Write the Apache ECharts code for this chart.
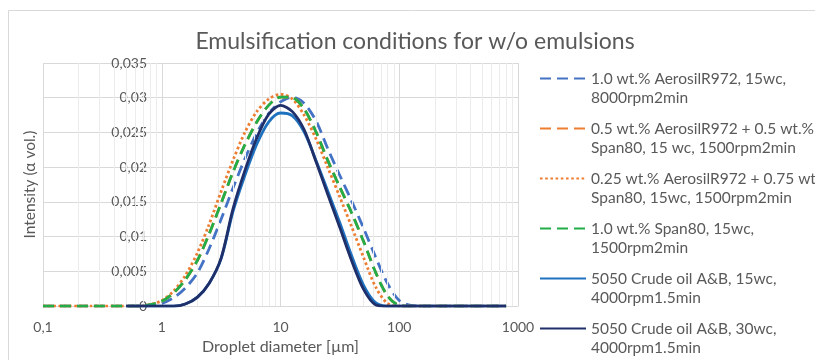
<!DOCTYPE html>
<html>
<head>
<meta charset="utf-8">
<script src="https://cdn.jsdelivr.net/npm/echarts@6/dist/echarts.min.js"></script>
<style>
  html, body { margin: 0; padding: 0; background: #fff; }
  #chart { width: 815px; height: 360px; }
</style>
</head>
<body>
<div id="chart"></div>
<script>
// Droplet diameters [µm] (log-spaced bins)
var diameters = [0.1, 0.126, 0.158, 0.2, 0.251, 0.316, 0.398, 0.501, 0.631, 0.794,
  1, 1.26, 1.58, 2.0, 2.51, 3.16, 3.98, 5.01, 6.31, 7.94,
  10, 12.6, 15.8, 20, 25.1, 31.6, 39.8, 50.1, 63.1, 79.4,
  100, 126, 158, 200, 251, 316, 398, 501, 631, 794];

var seriesNames = [
  '1.0 wt.% AerosilR972, 15wc,\n8000rpm2min',
  '0.5 wt.% AerosilR972 + 0.5 wt.%\nSpan80, 15 wc, 1500rpm2min',
  '0.25 wt.% AerosilR972 + 0.75 wt.%\nSpan80, 15wc, 1500rpm2min',
  '1.0 wt.% Span80, 15wc,\n1500rpm2min',
  '5050 Crude oil A&B, 15wc,\n4000rpm1.5min',
  '5050 Crude oil A&B, 30wc,\n4000rpm1.5min'
];

var aerosil1 = [0, 0, 0, 0, 0, 0, 0, 0, 0, 0.0001,
  0.0004, 0.0012, 0.0026, 0.0048, 0.0083, 0.0125, 0.0170, 0.0212, 0.0249, 0.0277,
  0.0294, 0.0301, 0.0292, 0.0266, 0.0226, 0.0188, 0.0151, 0.0112, 0.0071, 0.0033,
  0.0008, 0.0001, 0, 0, 0, 0, 0, 0, 0, 0];

var aerosil05span05 = [0, 0, 0, 0, 0, 0, 0, 0, 0, 0.0002,
  0.0007, 0.0019, 0.0038, 0.0066, 0.0104, 0.0148, 0.0193, 0.0232, 0.0265, 0.0289,
  0.0301, 0.0300, 0.0284, 0.0250, 0.0209, 0.0171, 0.0134, 0.0093, 0.0049, 0.0015,
  0.0001, 0, 0, 0, 0, 0, 0, 0, 0, 0];

var aerosil025span075 = [0, 0, 0, 0, 0, 0, 0, 0, 0, 0.0002,
  0.0008, 0.0022, 0.0044, 0.0077, 0.0118, 0.0165, 0.0210, 0.0250, 0.0280, 0.0298,
  0.0305, 0.0298, 0.0275, 0.0240, 0.0199, 0.0157, 0.0114, 0.0070, 0.0028, 0.0004,
  0, 0, 0, 0, 0, 0, 0, 0, 0, 0];

var span1 = [0, 0, 0, 0, 0, 0, 0, 0, 0, 0.0002,
  0.0007, 0.0019, 0.0038, 0.0066, 0.0104, 0.0148, 0.0193, 0.0232, 0.0265, 0.0289,
  0.0301, 0.0300, 0.0284, 0.0250, 0.0209, 0.0171, 0.0134, 0.0093, 0.0049, 0.0015,
  0.0001, 0, 0, 0, 0, 0, 0, 0, 0, 0];

var crude15 = [null, null, null, null, null, null, null, 0, 0, 0,
  0, 0, 0.0003, 0.0013, 0.0033, 0.0068, 0.0136, 0.0188, 0.0233, 0.0265,
  0.0278, 0.0274, 0.0251, 0.0209, 0.0165, 0.0120, 0.0072, 0.0030, 0.0005, 0,
  0, 0, 0, 0, 0, 0, 0, 0, 0, 0];

var crude30 = [null, null, null, null, null, null, null, 0, 0, 0,
  0, 0, 0.0003, 0.0013, 0.0033, 0.0069, 0.0140, 0.0195, 0.0242, 0.0276,
  0.0289, 0.0280, 0.0254, 0.0207, 0.0160, 0.0113, 0.0065, 0.0024, 0.0002, 0,
  0, 0, 0, 0, 0, 0, 0, 0, 0, 0];

// minor vertical gridlines of the log axis
var minorGrid = [0.2, 0.3, 0.4, 0.5, 0.6, 0.7, 0.8, 0.9,
  2, 3, 4, 5, 6, 7, 8, 9,
  20, 30, 40, 50, 60, 70, 80, 90,
  200, 300, 400, 500, 600, 700, 800, 900];

var seriesValues = [aerosil1, aerosil05span05, aerosil025span075, span1, crude15, crude30];
var seriesColors = ['#4472C4', '#ED7D31', '#ED7D31', '#22AD48', '#1F72BF', '#1F2F6A'];
var seriesDash = [[11, 6], [11, 6], [2.6, 2.6], [11, 6], 'solid', 'solid'];

function pairs(vals) {
  return diameters.map(function (d, i) { return [d, vals[i]]; });
}

var FONT = 'Lato, "Open Sans", sans-serif';
var TXT = '#595959';

var series = [{
  name: '__grid',
  type: 'line',
  data: [[0.1, 0]],
  symbol: 'none',
  lineStyle: { opacity: 0 },
  silent: true,
  z: 1,
  markLine: {
    silent: true,
    symbol: 'none',
    label: { show: false },
    lineStyle: { color: '#ECECEC', type: 'solid', width: 1 },
    animation: false,
    data: minorGrid.map(function (v) { return { xAxis: v }; })
  }
}];

seriesValues.forEach(function (vals, k) {
  series.push({
    name: seriesNames[k],
    type: 'line',
    data: pairs(vals),
    smooth: 0.3,
    symbol: 'none',
    showSymbol: false,
    connectNulls: false,
    z: 3 + k,
    lineStyle: { color: seriesColors[k], width: 2.8, type: seriesDash[k], cap: 'butt' },
    itemStyle: { color: seriesColors[k] },
    animation: false
  });
});

var chart = echarts.init(document.getElementById('chart'), null, { renderer: 'canvas' });
chart.setOption({
  animation: false,
  backgroundColor: '#fff',
  textStyle: { fontFamily: FONT },
  title: {
    text: 'Emulsification conditions for w/o emulsions',
    left: 410,
    textAlign: 'center',
    top: 25,
    textStyle: { fontFamily: FONT, fontSize: 23, fontWeight: 'normal', color: TXT }
  },
  graphic: [{
    type: 'rect',
    silent: true,
    shape: { x: 8.5, y: 10.5, width: 830, height: 400 },
    style: { fill: 'none', stroke: '#D9D9D9', lineWidth: 1 },
    z: -10
  }],
  grid: { left: 43, right: 297, top: 63, bottom: 43, containLabel: false },
  xAxis: {
    type: 'log',
    logBase: 10,
    min: 0.1,
    max: 1000,
    name: 'Droplet diameter [µm]',
    nameLocation: 'middle',
    nameGap: 26,
    nameTextStyle: { fontFamily: FONT, fontSize: 16, color: TXT },
    axisLine: { show: true, onZero: false, lineStyle: { color: '#D9D9D9', width: 1 } },
    axisTick: { show: false },
    axisLabel: {
      fontFamily: FONT, fontSize: 14, color: TXT, margin: 14,
      formatter: function (v) { return String(+Number(v).toPrecision(6)).replace('.', ','); }
    },
    splitLine: { show: true, lineStyle: { color: '#D9D9D9', width: 1 } },
    minorSplitLine: { show: false }
  },
  yAxis: {
    type: 'value',
    min: 0,
    max: 0.035,
    interval: 0.005,
    offset: -119,
    name: 'Intensity (α vol.)',
    nameLocation: 'middle',
    nameGap: 124,
    nameTextStyle: { fontFamily: FONT, fontSize: 15.5, color: TXT },
    axisLine: { show: false },
    axisTick: { show: false },
    axisLabel: {
      fontFamily: FONT, fontSize: 14, color: TXT, margin: 15,
      formatter: function (v) { return v === 0 ? '0' : String(+v.toFixed(3)).replace('.', ','); }
    },
    splitLine: { show: true, lineStyle: { color: '#D9D9D9', width: 1 } }
  },
  legend: {
    orient: 'vertical',
    left: 539,
    top: 50,
    padding: 0,
    itemGap: -7,
    itemWidth: 46,
    itemHeight: 14,
    data: seriesNames,
    selectedMode: false,
    itemStyle: { opacity: 0 },
    formatter: function (name) { return '\n' + name; },
    textStyle: { fontFamily: FONT, fontSize: 15.5, color: TXT, lineHeight: 19 }
  },
  series: series
});
</script>
</body>
</html>
